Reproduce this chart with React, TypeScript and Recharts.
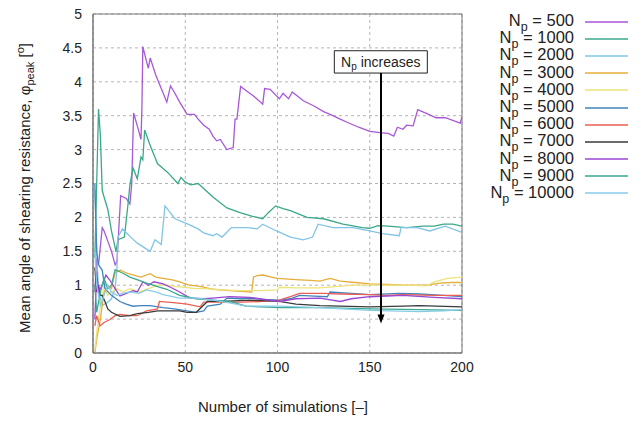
import React from "react";
import {
  LineChart,
  Line,
  XAxis,
  YAxis,
  CartesianGrid,
  ReferenceArea,
  ReferenceLine,
  ReferenceDot,
} from "recharts";

// number of particles for each curve
const npValues = [500, 1000, 2000, 3000, 4000, 5000, 6000, 7000, 8000, 9000, 10000];

const lineColors = [
  "#a857d8",
  "#3aa88a",
  "#80c4e6",
  "#e8ae3a",
  "#ece37a",
  "#3f84bb",
  "#ea5f55",
  "#3a3a3a",
  "#9b45d2",
  "#3aa892",
  "#88cde8",
];

// [number of simulations, mean phi_peak]
const np500 = [
  [1, 0.9], [2, 1.4], [3, 1.3], [5, 1.85], [6, 1.8], [8, 1.65], [10, 1.5], [12, 1.3], [13, 1.35],
  [15, 2.32], [18, 2.28], [20, 2.2], [21, 2.5], [22, 3.54], [24, 3.35], [26, 3.15], [26.5, 3.6],
  [27, 4.52], [29, 4.3], [30, 4.2], [31, 4.35], [34, 4.1], [37, 3.9], [40, 3.7], [42, 3.94],
  [44, 3.85], [47, 3.7], [51, 3.52], [55, 3.52], [57, 3.45], [60, 3.36], [63, 3.3], [65, 3.2],
  [67, 3.13], [69, 3.15], [72.5, 3.0], [76, 3.03], [77, 3.45], [78, 3.45], [80, 3.93], [84, 3.85],
  [87, 3.79], [92, 3.67], [93, 3.9], [96, 3.89], [101, 3.75], [103, 3.83], [106, 3.75], [108, 3.85],
  [114, 3.72], [120, 3.64], [125, 3.56], [130, 3.5], [134, 3.45], [138, 3.4], [144, 3.33],
  [150, 3.27], [155.5, 3.25], [160, 3.24], [163, 3.2], [165, 3.33], [168, 3.3], [170, 3.36],
  [173.5, 3.35], [176, 3.59], [181, 3.53], [186, 3.47], [191, 3.47], [195, 3.43], [199, 3.39],
  [200, 3.48],
];
const np1000 = [
  [1, 1.4], [2, 2.5], [3, 3.6], [4, 3.2], [5, 2.4], [6, 2.3], [8, 2.12], [10, 1.8], [12.5, 1.49],
  [13.5, 1.67], [17, 1.71], [19, 2.2], [20, 2.48], [21.7, 2.73], [24, 2.57], [26, 2.89], [27, 2.85],
  [28, 3.29], [31, 3.06], [35, 2.79], [38, 2.72], [40.6, 2.66], [46, 2.5], [47.7, 2.59], [50, 2.52],
  [53, 2.48], [57, 2.5], [61, 2.4], [65, 2.3], [72.6, 2.14], [79.7, 2.07], [86, 2.02], [92, 1.98],
  [95, 2.07], [99, 2.17], [103, 2.13], [107, 2.1], [116, 2.0], [125, 1.98], [135.5, 1.9],
  [146, 1.85], [150, 1.84], [154.5, 1.88], [160, 1.87], [170, 1.85], [179, 1.87], [185, 1.87],
  [190, 1.9], [195, 1.9], [200, 1.87],
];
const np2000 = [
  [1, 2.4], [2, 1.5], [3, 0.9], [5, 0.7], [8, 0.75], [10, 0.8], [12, 0.95], [13, 1.25], [13.5, 1.71],
  [16, 1.83], [20, 1.72], [24, 1.62], [28, 1.55], [31, 1.5], [33.6, 1.67], [37, 1.6], [39, 2.17],
  [44.4, 1.98], [51.5, 1.9], [57, 1.83], [60, 1.77], [65, 1.73], [67, 1.76], [70, 1.71], [75, 1.85],
  [80, 1.85], [84, 1.85], [89, 1.83], [92, 1.9], [99.5, 1.8], [107, 1.71], [114, 1.67], [119, 1.71],
  [122, 1.9], [130, 1.85], [141, 1.85], [150, 1.8], [157, 1.76], [166, 1.73], [167, 1.85],
  [175.6, 1.85], [182.6, 1.8], [190.8, 1.87], [200, 1.78],
];
const np3000 = [
  [1, 0.0], [2, 0.2], [4, 0.5], [6, 0.9], [8, 1.0], [10, 0.95], [12, 1.19], [15, 1.22], [18, 1.18],
  [22, 1.15], [26, 1.12], [31, 1.17], [34, 1.12], [38, 1.1], [43, 1.08], [47, 1.05], [52, 1.0],
  [56, 0.99], [60, 0.97], [65, 0.94], [74, 0.92], [80, 0.91], [86, 0.9], [87, 1.12], [89, 1.14],
  [92, 1.15], [99.7, 1.1], [106, 1.09], [112, 1.08], [118, 1.07], [123, 1.06], [128.5, 1.1],
  [134, 1.06], [142, 1.04], [150, 1.02], [160, 1.01], [168, 1.0], [181, 1.0], [188, 1.03],
  [194, 1.04], [200, 1.04],
];
const np4000 = [
  [1, 0.05], [2, 0.3], [4, 0.7], [6, 1.0], [8, 0.85], [10, 0.9], [13, 0.95], [16, 0.9], [20, 0.95],
  [25, 0.9], [30, 0.95], [35, 1.0], [40, 1.0], [45, 0.98], [50, 0.97], [55, 0.95], [60, 0.95],
  [70, 0.93], [80, 0.92], [90, 0.92], [100, 0.93], [101, 0.97], [110, 0.96], [123, 0.96],
  [141, 1.0], [168, 1.0], [181, 0.99], [185, 1.05], [192, 1.1], [200, 1.12],
];
const np5000 = [
  [1, 2.5], [2, 1.5], [3, 1.3], [5, 1.22], [6.5, 0.95], [10, 0.85], [14.6, 0.76], [18, 0.72],
  [21.7, 0.69], [26, 0.7], [31, 0.7], [38, 0.67], [44, 0.65], [49, 0.63], [56, 0.6], [60, 0.62],
  [62, 0.69], [69, 0.72], [72.6, 0.81], [80, 0.8], [85, 0.81], [92, 0.79], [101, 0.78], [107, 0.8],
  [112, 0.85], [120, 0.84], [127, 0.83], [128.5, 0.9], [140, 0.88], [150, 0.86], [166, 0.88],
  [177, 0.87], [190, 0.85], [200, 0.83],
];
const np6000 = [
  [1, 0.4], [2, 0.55], [3.8, 0.4], [6, 0.45], [9, 0.49], [12, 0.55], [14.6, 0.57], [20, 0.55],
  [24, 0.55], [29, 0.62], [35, 0.65], [36, 0.76], [45, 0.74], [51, 0.72], [58, 0.68], [60, 0.75],
  [69, 0.75], [80, 0.75], [92, 0.76], [101, 0.78], [107, 0.83], [112, 0.88], [125, 0.88],
  [134, 0.87], [150, 0.86], [159, 0.85], [168, 0.86], [185, 0.85], [200, 0.85],
];
const np7000 = [
  [1, 1.26], [2, 0.9], [3, 1.0], [4, 0.85], [5, 0.85], [6.5, 0.76], [8, 0.65], [10, 0.6],
  [14.6, 0.54], [20, 0.55], [24, 0.58], [30, 0.6], [35, 0.62], [47, 0.62], [51, 0.6], [56, 0.6],
  [62, 0.76], [70, 0.76], [85, 0.78], [101, 0.76], [110, 0.72], [123, 0.7], [150, 0.68],
  [168, 0.69], [177, 0.7], [200, 0.68],
];
const np8000 = [
  [1, 0.5], [2, 1.2], [3, 0.9], [5, 1.0], [7, 1.15], [9, 1.08], [12, 0.95], [14.6, 0.84], [18, 0.88],
  [21.7, 0.92], [24, 0.9], [27, 1.05], [30, 1.0], [33, 1.05], [38, 1.02], [42, 0.97], [47, 0.9],
  [52.6, 0.81], [60, 0.8], [65, 0.81], [74, 0.83], [85, 0.82], [101, 0.76], [110, 0.8], [123, 0.81],
  [134, 0.76], [140, 0.8], [150, 0.83], [168, 0.85], [185, 0.82], [200, 0.8],
];
const np9000 = [
  [1, 1.0], [2, 0.6], [4, 0.9], [6, 1.1], [8, 0.95], [10, 1.0], [12, 1.23], [16, 1.18], [20, 1.12],
  [25, 1.07], [29, 1.03], [35, 0.98], [40, 0.94], [47, 0.85], [56, 0.8], [65, 0.78], [74, 0.76],
  [83, 0.69], [101, 0.67], [123, 0.67], [150, 0.65], [177, 0.64], [200, 0.63],
];
const np10000 = [
  [1, 1.5], [2, 1.0], [4, 0.7], [6, 0.85], [8, 1.0], [10, 0.9], [13, 0.85], [16, 0.88], [20, 0.9],
  [25, 0.88], [29, 0.93], [34, 0.9], [38, 0.86], [47, 0.81], [56, 0.81], [65, 0.78], [74, 0.74],
  [83, 0.69], [101, 0.69], [123, 0.67], [150, 0.63], [177, 0.61], [190, 0.62], [200, 0.64],
];

const phiSeries = [np500, np1000, np2000, np3000, np4000, np5000, np6000, np7000, np8000, np9000, np10000];

const xTicks = [0, 50, 100, 150, 200];
const yTicks = [0, 0.5, 1, 1.5, 2, 2.5, 3, 3.5, 4, 4.5, 5];

const toRows = (pts: number[][]) => pts.map(([x, y]) => ({ x, y }));

const font = "'Liberation Sans', Arial, sans-serif";

// legend drawn by hand, outside the chart so it doesn't eat plot width
const NpLegend = () => (
  <div
    style={{
      position: "absolute",
      left: 440,
      top: 13,
      width: 200,
      fontFamily: font,
      fontSize: 16.5,
      color: "#222",
    }}
  >
    {npValues.map((np, i) => (
      <div key={np} style={{ display: "flex", alignItems: "center", height: 17.2 }}>
        <span style={{ width: 134, textAlign: "right", whiteSpace: "nowrap", lineHeight: "17px" }}>
          N
          <span style={{ fontSize: 12.5, position: "relative", top: 5 }}>p</span>
          {" = " + np}
        </span>
        <svg width={54} height={10}>
          <line x1={11} x2={54} y1={5} y2={5} stroke={lineColors[i]} strokeWidth={1.3} />
        </svg>
      </div>
    ))}
  </div>
);

const Arrowhead = (props: any) => {
  const { cx, cy } = props;
  return (
    <polygon
      points={`${cx - 3.5},${cy - 9} ${cx + 3.5},${cy - 9} ${cx},${cy}`}
      fill="#000"
    />
  );
};

const App: React.FC = () => {
  return (
    <div style={{ position: "absolute", left: 0, top: 0, width: 642, height: 442, background: "#fff" }}>
      <LineChart
        width={642}
        height={442}
        margin={{ top: 14, right: 180, bottom: 59, left: 23 }}
      >
        <CartesianGrid stroke="#b5b5b5" strokeDasharray="3 3" />
        <XAxis
          type="number"
          dataKey="x"
          domain={[0, 200]}
          ticks={xTicks}
          allowDataOverflow
          tickSize={0}
          tickMargin={9}
          axisLine={{ stroke: "#777" }}
          tick={{ fill: "#222", fontSize: 14, fontFamily: font }}
          label={{
            content: () => (
              <text x={283} y={412} textAnchor="middle" fill="#222" fontSize={15} fontFamily={font}>
                Number of simulations [–]
              </text>
            ),
          }}
        />
        <YAxis
          type="number"
          domain={[0, 5]}
          ticks={yTicks}
          allowDataOverflow
          width={70}
          tickSize={0}
          tickMargin={11}
          axisLine={{ stroke: "#777" }}
          tick={{ fill: "#222", fontSize: 14, fontFamily: font }}
          label={{
            content: () => (
              <text
                x={30}
                y={188}
                transform="rotate(-90, 30, 188)"
                textAnchor="middle"
                fill="#222"
                fontSize={15}
                fontFamily={font}
              >
                Mean angle of shearing resistance, φ
                <tspan fontSize={11} dy={4}>peak</tspan>
                <tspan dy={-4}> [</tspan>
                <tspan fontSize={11} dy={-6}>o</tspan>
                <tspan dy={6}>]</tspan>
              </text>
            ),
          }}
        />
        <ReferenceArea x1={0} x2={200} y1={0} y2={5} fill="none" stroke="#777" strokeWidth={1} />
        {phiSeries.map((pts, i) => (
          <Line
            key={npValues[i]}
            data={toRows(pts)}
            dataKey="y"
            name={String(npValues[i])}
            stroke={lineColors[i]}
            strokeWidth={1.3}
            dot={false}
            activeDot={false}
            isAnimationActive={false}
          />
        ))}
        <ReferenceLine
          segment={[{ x: 156.1, y: 4.13 }, { x: 156.1, y: 0.5 }]}
          stroke="#000"
          strokeWidth={2}
        />
        <ReferenceDot x={156.1} y={0.434} shape={Arrowhead} />
        <ReferenceArea
          x1={130.8}
          x2={181.2}
          y1={4.129}
          y2={4.458}
          fill="#fff"
          fillOpacity={1}
          stroke="#222"
          strokeWidth={1}
          label={{
            content: (p: any) => {
              const vb = p.viewBox;
              const cx = vb.x + vb.width / 2;
              const cy = vb.y + vb.height / 2 + 5;
              return (
                <text x={cx} y={cy} textAnchor="middle" fill="#222" fontSize={14} fontFamily={font}>
                  N<tspan fontSize={10} dy={3}>p</tspan>
                  <tspan dy={-3}> increases</tspan>
                </text>
              );
            },
          }}
        />
      </LineChart>
      <NpLegend />
    </div>
  );
};

export default App;
